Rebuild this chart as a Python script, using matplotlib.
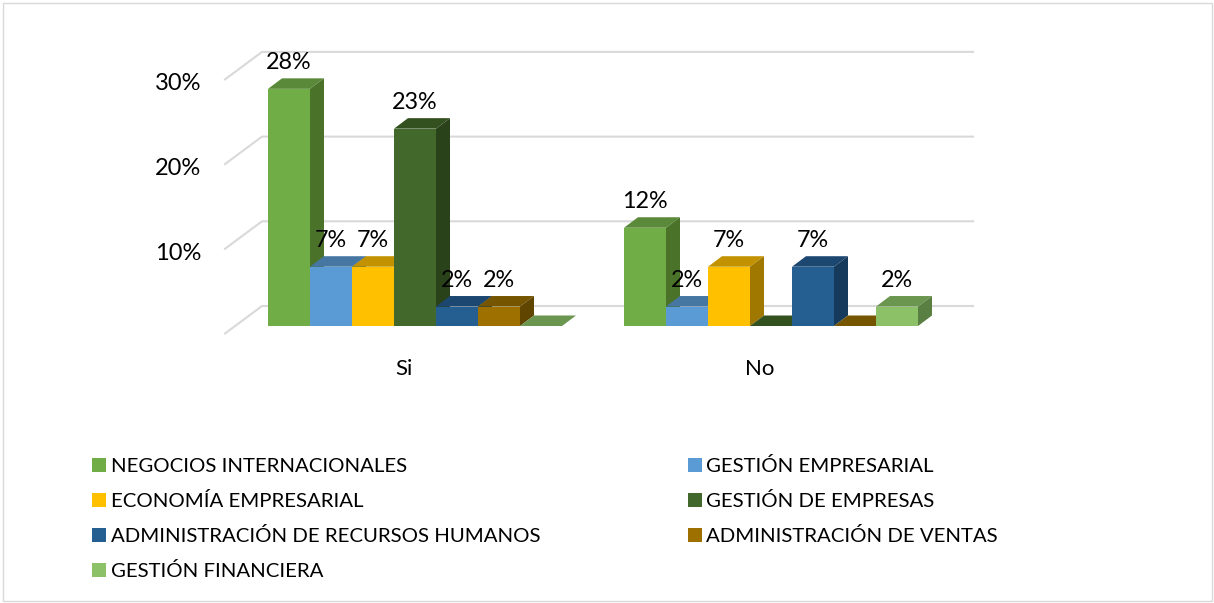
import matplotlib
matplotlib.use("Agg")
import matplotlib.pyplot as plt
from matplotlib.patches import Patch, Polygon, Rectangle
import numpy as np

plt.rcParams["font.family"] = ["Lato", "DejaVu Sans"]

categories = ["Si", "No"]
tick_values = [10, 20, 30]
grid_values = [0, 10, 20, 30]
series_names = [
    "NEGOCIOS INTERNACIONALES",
    "GESTIÓN EMPRESARIAL",
    "ECONOMÍA EMPRESARIAL",
    "GESTIÓN DE EMPRESAS",
    "ADMINISTRACIÓN DE RECURSOS HUMANOS",
    "ADMINISTRACIÓN DE VENTAS",
    "GESTIÓN FINANCIERA",
]
# percent (the labels are rounded)
negocios = [28.0, 11.6]
gestion_emp = [7.0, 2.3]
economia = [7.0, 7.0]
gestion_de = [23.3, 0.0]
recursos = [2.3, 7.0]
ventas = [2.3, 0.0]
financiera = [0.0, 2.3]
label_texts = [
    ["28%", "12%"],
    ["7%", "2%"],
    ["7%", "7%"],
    ["23%", None],
    ["2%", "7%"],
    ["2%", None],
    [None, "2%"],
]

values = [negocios, gestion_emp, economia, gestion_de, recursos, ventas, financiera]
front_colors = ["#70AD47", "#5B9BD5", "#FFC000", "#43682B", "#255E91", "#9E7000", "#8CC168"]
top_colors = ["#5A8A39", "#4677A3", "#C29200", "#33501F", "#1C4770", "#755500", "#6B9650"]
side_colors = ["#4A7229", "#37638B", "#A07800", "#2A4219", "#163A5C", "#5F4500", "#5A7F43"]

W, H = 1214, 603
BAR_PX = 42
Y_PX = 8.47
X0_PX, Y0_PX = 268, 326
GROUP_STEP = 356 / BAR_PX
DEPTH_X = 14 / BAR_PX
DEPTH_Y = 10.5 / Y_PX

fig = plt.figure(figsize=(W / 100, H / 100), dpi=100)
ax = fig.add_axes([0, 0, 1, 1])
ax.set_xlim(-X0_PX / BAR_PX, (W - X0_PX) / BAR_PX)
ax.set_ylim(-(H - Y0_PX) / Y_PX, Y0_PX / Y_PX)
ax.axis("off")

fig.add_artist(Rectangle((2.5 / W, 2.5 / H), (W - 5) / W, (H - 5) / H, transform=fig.transFigure,
                         facecolor="none", edgecolor="#D9D9D9", linewidth=1))

# back wall lines and the slanted floor/side lines
grid_back_x, grid_end_x, grid_front_x = -6 / BAR_PX, 705 / BAR_PX, -43 / BAR_PX
back_dy, front_dy = 20 / Y_PX, -7.5 / Y_PX
for v in grid_values:
    ax.plot([grid_front_x, grid_back_x, grid_end_x],
            [v + front_dy, v + back_dy, v + back_dy],
            color="#D9D9D9", lw=1.5, zorder=1, solid_joinstyle="miter")

for v in tick_values:
    ax.text(grid_front_x - 24 / BAR_PX, v + front_dy - 0.5, f"{v}%", ha="right", va="center",
            fontsize=17, color="black", zorder=5)

for g, cat in enumerate(categories):
    start = g * GROUP_STEP
    ax.text(start + 3.5 - 11 / BAR_PX, -43 / Y_PX, cat, ha="center", va="center",
            fontsize=16, color="black", zorder=5)
    for s, series in enumerate(values):
        v = series[g]
        x = start + s
        ax.bar(x, v, width=1, align="edge", color=front_colors[s], zorder=3 + 0.01 * s)
        top = [(x, v), (x + DEPTH_X, v + DEPTH_Y), (x + 1 + DEPTH_X, v + DEPTH_Y), (x + 1, v)]
        ax.add_patch(Polygon(top, closed=True, facecolor=top_colors[s], edgecolor="none",
                             zorder=3 + 0.01 * s - 0.004))
        if v > 0:
            side = [(x + 1, 0), (x + 1 + DEPTH_X, DEPTH_Y), (x + 1 + DEPTH_X, v + DEPTH_Y), (x + 1, v)]
            ax.add_patch(Polygon(side, closed=True, facecolor=side_colors[s], edgecolor="none",
                                 zorder=3 + 0.01 * s - 0.004))
        if label_texts[s][g]:
            ax.text(x + 0.5, v + 26 / Y_PX, label_texts[s][g], ha="center", va="center",
                    fontsize=16.8, color="black", zorder=6)

handles = [Patch(facecolor=c, edgecolor="none") for c in front_colors]
order = [0, 2, 4, 6, 1, 3, 5]
fs = 14.7
px = fs * 100 / 72
leg = fig.legend([handles[i] for i in order], [series_names[i] for i in order],
                 ncol=2, loc="upper left", bbox_to_anchor=(92 / W, 1 - 457 / H),
                 bbox_transform=fig.transFigure, frameon=False, fontsize=fs,
                 handlelength=14 / px, handleheight=14 / px, handletextpad=5 / px,
                 labelspacing=0.83, columnspacing=147 / px, borderpad=0, borderaxespad=0,
                 labelcolor="black")

fig.savefig("out.png", dpi=100)
